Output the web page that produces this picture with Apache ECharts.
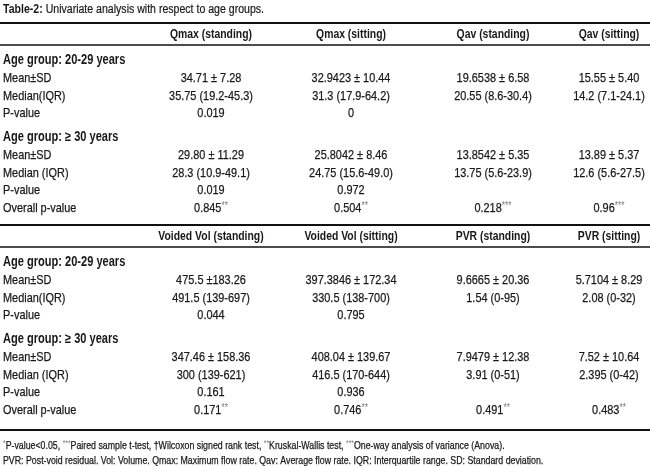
<!DOCTYPE html>
<html>
<head>
<meta charset="utf-8">
<script src="https://cdn.jsdelivr.net/npm/echarts@6/dist/echarts.min.js"></script>
<style>
  html, body { margin: 0; padding: 0; background: #fff; }
  #chart { width: 650px; height: 466px; }
</style>
</head>
<body>
<div id="chart"></div>
<script>
// Table content
const tableTitle = ['Table-2:', ' Univariate analysis with respect to age groups.'];
const headersFlow = ['Qmax (standing)', 'Qmax (sitting)', 'Qav (standing)', 'Qav (sitting)'];
const headersVol = ['Voided Vol (standing)', 'Voided Vol (sitting)', 'PVR (standing)', 'PVR (sitting)'];
const groupLabels = ['Age group: 20-29 years', 'Age group: \u2265 30 years'];
const rowLabelsYoung = ['Mean\u00b1SD', 'Median(IQR)', 'P-value'];
const rowLabelsOld = ['Mean\u00b1SD', 'Median (IQR)', 'P-value', 'Overall p-value'];

const flowYoung = [
  ['34.71 \u00b1 7.28', '32.9423 \u00b1 10.44', '19.6538 \u00b1 6.58', '15.55 \u00b1 5.40'],
  ['35.75 (19.2-45.3)', '31.3 (17.9-64.2)', '20.55 (8.6-30.4)', '14.2 (7.1-24.1)'],
  ['0.019', '0', '', '']
];
const flowOld = [
  ['29.80 \u00b1 11.29', '25.8042 \u00b1 8.46', '13.8542 \u00b1 5.35', '13.89 \u00b1 5.37'],
  ['28.3 (10.9-49.1)', '24.75 (15.6-49.0)', '13.75 (5.6-23.9)', '12.6 (5.6-27.5)'],
  ['0.019', '0.972', '', ''],
  ['0.845**', '0.504**', '0.218***', '0.96***']
];
const volYoung = [
  ['475.5 \u00b1183.26', '397.3846 \u00b1 172.34', '9.6665 \u00b1 20.36', '5.7104 \u00b1 8.29'],
  ['491.5 (139-697)', '330.5 (138-700)', '1.54 (0-95)', '2.08 (0-32)'],
  ['0.044', '0.795', '', '']
];
const volOld = [
  ['347.46 \u00b1 158.36', '408.04 \u00b1 139.67', '7.9479 \u00b1 12.38', '7.52 \u00b1 10.64'],
  ['300 (139-621)', '416.5 (170-644)', '3.91 (0-51)', '2.395 (0-42)'],
  ['0.161', '0.936', '', ''],
  ['0.171**', '0.746**', '0.491**', '0.483**']
];
const footnotes = [
  '*P-value<0.05, ***Paired sample t-test, \u2020Wilcoxon signed rank test, **Kruskal-Wallis test, ***One-way analysis of variance (Anova).',
  'PVR: Post-void residual. Vol: Volume. Qmax: Maximum flow rate. Qav: Average flow rate. IQR: Interquartile range. SD: Standard deviation.'
];

// Layout
const FONT = '"Liberation Sans", Arial, sans-serif';
const INK = '#1b1718';
const colX = [211, 351, 493, 609];
const labelX = 3;
const rowH = 17.6;

const chart = echarts.init(document.getElementById('chart'), null, { renderer: 'canvas' });
const els = [];

// turn asterisks into superscript marks
function rich(str) {
  return str.replace(/(\*+)/g, '{sup|$1}').replace(/^([^{]+)/, '{b|$1}').replace(/\}([^{]+)/g, '}{b|$1}');
}

function text(x, y, str, opt = {}) {
  const size = opt.size || 13;
  els.push({
    type: 'text',
    x: x, y: y,
    scaleX: opt.squeeze || 0.84,
    style: {
      text: rich(str),
      fill: INK,
      font: (opt.bold ? 'bold ' : '') + size + 'px ' + FONT,
      align: opt.align || 'left',
      verticalAlign: 'middle',
      rich: {
        b: {
          fontSize: size, fontFamily: FONT, fontWeight: opt.bold ? 'bold' : 'normal',
          fill: INK, stroke: INK, lineWidth: opt.bold ? 0 : 0.25, lineHeight: 14
        },
        sup: { fontSize: size < 12 ? 8.5 : 10, fontFamily: FONT, fill: '#7a7a7a', lineHeight: 9, verticalAlign: 'top' }
      }
    }
  });
}

function rule(y, w) {
  els.push({ type: 'line', shape: { x1: 0, y1: y, x2: 650, y2: y }, style: { stroke: '#111', lineWidth: w } });
}

function section(headers, young, old, top) {
  rule(top, 2);
  headers.forEach((h, i) => text(colX[i], top + 11, h, { bold: true, size: 13, align: 'center', squeeze: 0.8 }));
  rule(top + 22, 1.5);
  let y = top + 37;
  text(labelX, y, groupLabels[0], { bold: true, size: 14, squeeze: 0.79 });
  y += 1;
  rowLabelsYoung.forEach((lab, r) => {
    y += rowH;
    text(labelX, y, lab);
    young[r].forEach((v, c) => v && text(colX[c], y, v, { align: 'center' }));
  });
  y += rowH + 5.5;
  text(labelX, y, groupLabels[1], { bold: true, size: 14, squeeze: 0.79 });
  y += 1;
  rowLabelsOld.forEach((lab, r) => {
    y += rowH;
    text(labelX, y, lab);
    old[r].forEach((v, c) => v && text(colX[c], y, v, { align: 'center' }));
  });
}

// title
els.push({
  type: 'text', x: 3, y: 10, scaleX: 0.88,
  style: {
    text: '{t|' + tableTitle[0] + '}{s|' + tableTitle[1] + '}',
    verticalAlign: 'middle',
    rich: {
      t: { fontSize: 12, fontWeight: 'bold', fontFamily: FONT, fill: INK },
      s: { fontSize: 12, fontFamily: FONT, fill: INK, stroke: INK, lineWidth: 0.2 }
    }
  }
});

section(headersFlow, flowYoung, flowOld, 23);
section(headersVol, volYoung, volOld, 225);
rule(430, 2);
footnotes.forEach((f, i) => text(labelX, 446 + i * 15, f, { size: 11, squeeze: 0.8 }));

chart.setOption({ animation: false, graphic: { elements: els } });
</script>
</body>
</html>
